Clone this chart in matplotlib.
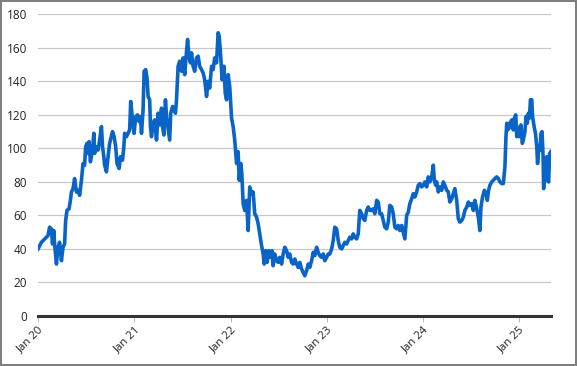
import numpy as np
import matplotlib
matplotlib.use("Agg")
import matplotlib.pyplot as plt
import matplotlib.dates as mdates

# ---- data ----
start_date = "2020-01-01"
days_since_start = [
    0, 13, 26, 32, 38, 44, 51, 55, 60, 63, 70, 76, 82, 89, 95, 101, 105, 110, 118, 123,
    127, 133, 139, 146, 152, 158, 165, 171, 177, 181, 186, 190, 194, 199, 207, 212, 215, 222, 228, 234,
    241, 245, 250, 253, 260, 266, 272, 283, 289, 295, 300, 308, 313, 321, 326, 329, 336, 342, 348, 352,
    359, 365, 371, 378, 384, 389, 393, 399, 403, 409, 414, 418, 424, 427, 431, 437, 443, 450, 456, 462,
    469, 473, 478, 484, 488, 494, 500, 504, 511, 516, 522, 526, 532, 538, 545, 551, 557, 564, 568, 573,
    579, 583, 589, 595, 602, 608, 614, 621, 627, 633, 640, 646, 652, 659, 665, 671, 678, 684, 688, 693,
    699, 706, 711, 716, 722, 728, 735, 741, 747, 754, 760, 764, 770, 774, 779, 785, 792, 798, 804, 811,
    817, 823, 830, 836, 842, 849, 855, 859, 865, 870, 877, 883, 889, 893, 899, 906, 912, 918, 925, 931,
    937, 944, 950, 956, 963, 969, 975, 982, 988, 994, 1001, 1007, 1013, 1020, 1026, 1032, 1039, 1045, 1051, 1058,
    1064, 1070, 1077, 1083, 1089, 1096, 1102, 1108, 1115, 1121, 1127, 1134, 1140, 1146, 1153, 1159, 1165, 1172, 1178, 1184,
    1191, 1197, 1203, 1210, 1216, 1222, 1229, 1235, 1241, 1248, 1254, 1260, 1267, 1273, 1279, 1286, 1292, 1298, 1305, 1311,
    1317, 1324, 1330, 1336, 1343, 1349, 1355, 1362, 1368, 1374, 1381, 1387, 1393, 1400, 1406, 1412, 1419, 1425, 1431, 1438,
    1444, 1450, 1457, 1463, 1469, 1476, 1482, 1488, 1495, 1501, 1505, 1510, 1514, 1520, 1526, 1533, 1539, 1545, 1552, 1558,
    1564, 1571, 1577, 1583, 1590, 1596, 1602, 1609, 1615, 1621, 1628, 1634, 1640, 1647, 1653, 1659, 1666, 1672, 1678, 1682,
    1688, 1695, 1701, 1706, 1711, 1716, 1723, 1729, 1735, 1742, 1748, 1754, 1761, 1767, 1773, 1777, 1780, 1783, 1789, 1792,
    1799, 1805, 1809, 1814, 1818, 1821, 1827, 1830, 1834, 1839, 1843, 1849, 1853, 1858, 1862, 1866, 1870, 1875, 1878, 1884,
    1889, 1894, 1897, 1902, 1906, 1910, 1914, 1918, 1920, 1924, 1928, 1932, 1935, 1939, 1943, 1947,
]
values = [
    40, 44, 46, 47, 48, 53, 52, 43, 51, 43, 31, 41, 44, 33, 41, 43, 57, 63, 64, 69,
    74, 76, 82, 74, 75, 72, 81, 91, 90, 101, 103, 97, 104, 92, 99, 109, 97, 101, 99, 105,
    113, 101, 95, 90, 86, 95, 103, 110, 107, 101, 91, 88, 95, 93, 101, 109, 107, 109, 111, 128,
    117, 109, 119, 120, 116, 119, 109, 123, 146, 147, 142, 131, 129, 113, 107, 115, 117, 105, 121, 114,
    124, 113, 108, 129, 119, 112, 105, 121, 125, 123, 121, 129, 149, 152, 146, 154, 144, 158, 165, 155,
    151, 157, 149, 146, 154, 155, 149, 147, 145, 141, 131, 140, 136, 149, 147, 154, 151, 169, 167, 157,
    141, 149, 133, 129, 144, 137, 118, 113, 105, 91, 98, 81, 91, 85, 67, 63, 69, 51, 77, 73,
    74, 61, 59, 55, 49, 42, 37, 31, 39, 32, 39, 35, 39, 30, 37, 33, 32, 35, 31, 37,
    41, 39, 35, 37, 32, 31, 34, 31, 29, 32, 28, 26, 24, 27, 31, 29, 33, 38, 36, 41,
    38, 36, 35, 37, 33, 35, 37, 37, 40, 45, 53, 52, 45, 41, 40, 42, 44, 43, 45, 47,
    46, 49, 47, 46, 49, 63, 61, 58, 57, 63, 65, 63, 63, 64, 61, 69, 68, 61, 61, 57,
    53, 52, 56, 66, 65, 61, 53, 52, 54, 51, 54, 50, 46, 60, 62, 67, 70, 73, 71, 74,
    78, 79, 77, 78, 80, 77, 83, 80, 83, 90, 81, 78, 80, 74, 77, 75, 80, 78, 75, 74,
    68, 70, 73, 76, 69, 58, 56, 57, 59, 63, 65, 68, 66, 67, 63, 69, 64, 59, 51, 65,
    71, 75, 73, 69, 75, 78, 80, 81, 82, 83, 82, 80, 79, 79, 89, 107, 115, 111, 112, 115,
    117, 111, 118, 120, 107, 109, 107, 113, 114, 103, 105, 110, 119, 115, 121, 118, 129, 129, 119, 113,
    109, 101, 91, 101, 99, 109, 110, 95, 76, 89, 87, 95, 81, 80, 97, 98,
]
year_ticks = ["2020-01-01", "2021-01-01", "2022-01-01", "2023-01-01", "2024-01-01", "2025-01-01"]
y_ticks = [0, 20, 40, 60, 80, 100, 120, 140, 160, 180]

# ---- build ----
dates = np.datetime64(start_date) + np.array(days_since_start).astype("timedelta64[D]")

plt.rcParams["font.family"] = ["Open Sans", "DejaVu Sans"]
fig = plt.figure(figsize=(5.77, 3.66), dpi=100)
fig.patch.set_facecolor("white")
fig.patch.set_edgecolor("#7f7f7f")
fig.patch.set_linewidth(1.5)

ax = fig.add_axes([38 / 577, 1 - 316 / 366, (551 - 38) / 577, (316 - 14.3) / 366])
ax.plot(dates, values, color="#0a64c8", lw=2.6, solid_joinstyle="round", zorder=3)

ax.set_ylim(0, 180)
ax.set_yticks(y_ticks)
ax.set_xlim(np.datetime64(start_date), np.datetime64(start_date) + np.timedelta64(1948, "D"))
ax.set_xticks([np.datetime64(d) for d in year_ticks])
ax.xaxis.set_major_formatter(mdates.DateFormatter("Jan %y"))

ax.grid(axis="y", color="#c8c8c8", lw=0.9, zorder=0)
ax.set_axisbelow(True)
for s in ["top", "right", "left"]:
    ax.spines[s].set_visible(False)
ax.spines["bottom"].set_color("#333333")
ax.spines["bottom"].set_linewidth(2.2)
ax.spines["bottom"].set_zorder(4)

ax.tick_params(axis="y", length=0, pad=8, labelsize=8.5, labelcolor="#222222")
ax.tick_params(axis="x", length=4, width=0.8, color="#bfbfbf", pad=2, labelsize=8.2, labelcolor="#222222")
for lbl in ax.get_xticklabels():
    lbl.set_rotation(45)
    lbl.set_ha("right")
    lbl.set_rotation_mode("anchor")

fig.savefig("out.png", dpi=100, facecolor=fig.get_facecolor(), edgecolor=fig.get_edgecolor())
